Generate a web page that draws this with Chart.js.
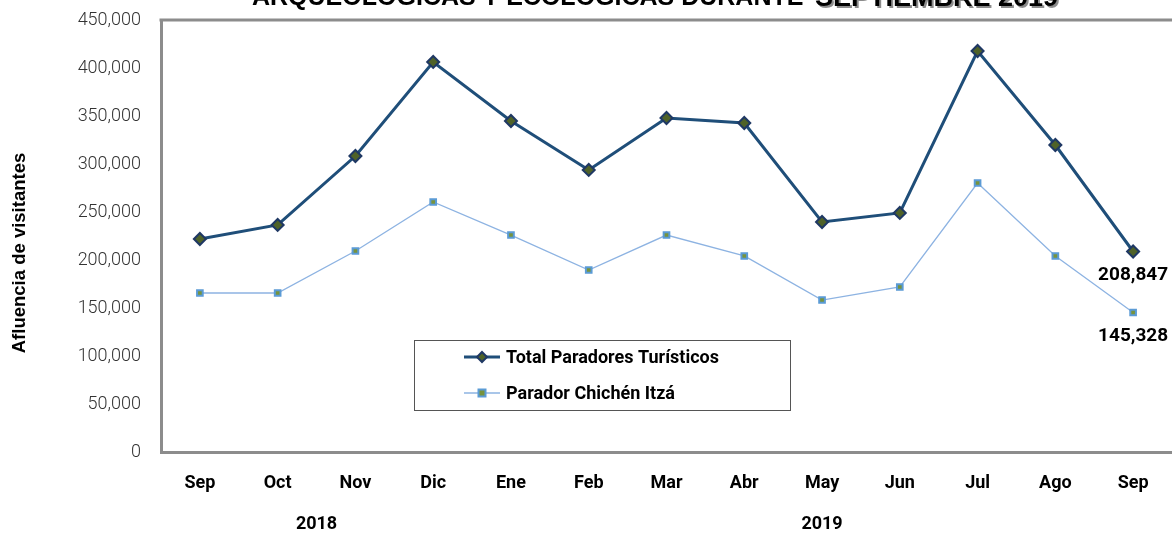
<!DOCTYPE html>
<html>
<head>
<meta charset="utf-8">
<script src="https://cdn.jsdelivr.net/npm/chart.js@4.4.0/dist/chart.umd.min.js"></script>
<style>
  html, body { margin: 0; padding: 0; background: #fff; overflow: hidden; }
  #wrap { width: 1180px; height: 534px; }
</style>
</head>
<body>
<div id="wrap"><canvas id="visitChart" width="1180" height="534"></canvas></div>
<script>
const months = ['Sep', 'Oct', 'Nov', 'Dic', 'Ene', 'Feb', 'Mar', 'Abr', 'May', 'Jun', 'Jul', 'Ago', 'Sep'];
const totalParadores = [221900, 236500, 308300, 406300, 344800, 293800, 347900, 342700, 239600, 249000, 417700, 319800, 208847];
const chichenItza = [165600, 165600, 209400, 260400, 226000, 189600, 226000, 204200, 158300, 171900, 280200, 204200, 145328];
const yTicks = [0, 50000, 100000, 150000, 200000, 250000, 300000, 350000, 400000, 450000];
const seriesNames = ['Total Paradores Turísticos', 'Parador Chichén Itzá'];
const years = ['2018', '2019'];
const yTitle = 'Afluencia de visitantes';
const titleParts = ['ARQUEOLÓGICAS Y ECOLÓGICAS DURANTE ', 'SEPTIEMBRE 2019'];

const fmt = v => v.toLocaleString('en-US');

const extrasPlugin = {
  id: 'extras',
  afterDraw(chart) {
    const ctx = chart.ctx;
    const area = chart.chartArea;
    const xs = chart.scales.x;
    ctx.save();

    // top border of plot area
    ctx.strokeStyle = '#8c8c8c';
    ctx.lineWidth = 3;
    ctx.beginPath();
    ctx.moveTo(area.left - 1.5, area.top);
    ctx.lineTo(area.right, area.top);
    ctx.stroke();

    // cut-off title
    ctx.fillStyle = '#000';
    ctx.textBaseline = 'alphabetic';
    ctx.textAlign = 'left';
    ctx.font = 'bold 25px "Liberation Sans", Arial, sans-serif';
    ctx.fillText(titleParts[0], 252, 5, 562);
    ctx.save();
    ctx.shadowColor = 'rgba(0,0,0,0.45)';
    ctx.shadowOffsetX = 2;
    ctx.shadowOffsetY = 2;
    ctx.font = 'bold 27px "Liberation Sans", Arial, sans-serif';
    ctx.fillText(titleParts[1], 815, 6, 295);
    ctx.restore();

    // y axis title (centred on the whole figure, like the original)
    ctx.save();
    ctx.translate(20, 253);
    ctx.rotate(-Math.PI / 2);
    ctx.font = 'bold 18.5px "Liberation Sans", Arial, sans-serif';
    ctx.textAlign = 'center';
    ctx.textBaseline = 'middle';
    ctx.fillText(yTitle, 0, 0);
    ctx.restore();

    // year labels
    ctx.font = 'bold 18px Roboto, sans-serif';
    ctx.textAlign = 'center';
    ctx.textBaseline = 'middle';
    const y2018 = (xs.getPixelForValue(1) + xs.getPixelForValue(2)) / 2;
    const y2019 = xs.getPixelForValue(8);
    ctx.fillText(years[0], y2018, 524);
    ctx.fillText(years[1], y2019, 524);

    // data labels on last points
    const last = months.length - 1;
    ctx.font = 'bold 19px Roboto, sans-serif';
    chart.data.datasets.forEach((ds, i) => {
      const pt = chart.getDatasetMeta(i).data[last];
      ctx.fillText(fmt(ds.data[last]), pt.x, pt.y + 24);
    });

    // legend box
    const lx = 414, ly = 340, lw = 376, lh = 70;
    ctx.fillStyle = '#fff';
    ctx.fillRect(lx, ly, lw, lh);
    ctx.strokeStyle = '#555';
    ctx.lineWidth = 1;
    ctx.strokeRect(lx + 0.5, ly + 0.5, lw, lh);
    chart.data.datasets.forEach((ds, i) => {
      const cy = ly + 17 + i * 36;
      ctx.strokeStyle = ds.borderColor;
      ctx.lineWidth = ds.borderWidth;
      ctx.beginPath();
      ctx.moveTo(464, cy);
      ctx.lineTo(500, cy);
      ctx.stroke();
      ctx.fillStyle = ds.pointBackgroundColor;
      ctx.strokeStyle = ds.pointBorderColor;
      ctx.lineWidth = ds.pointBorderWidth;
      ctx.beginPath();
      if (ds.pointStyle === 'rectRot') {
        const r = 5;
        ctx.moveTo(482, cy - r); ctx.lineTo(482 + r, cy); ctx.lineTo(482, cy + r); ctx.lineTo(482 - r, cy); ctx.closePath();
      } else {
        ctx.rect(478.5, cy - 3.5, 7, 7);
      }
      ctx.fill();
      ctx.stroke();
      ctx.fillStyle = '#000';
      ctx.font = 'bold 18px Roboto, sans-serif';
      ctx.textAlign = 'left';
      ctx.textBaseline = 'middle';
      ctx.fillText(seriesNames[i], 506, cy + 1);
    });

    ctx.restore();
  }
};

new Chart(document.getElementById('visitChart'), {
  type: 'line',
  data: {
    labels: months,
    datasets: [{
      label: seriesNames[0],
      data: totalParadores,
      borderColor: '#1f4e79',
      borderWidth: 3,
      pointStyle: 'rectRot',
      pointRadius: 6,
      pointBackgroundColor: '#4f6228',
      pointBorderColor: '#1f3864',
      pointBorderWidth: 2,
      tension: 0
    }, {
      label: seriesNames[1],
      data: chichenItza,
      borderColor: '#8db3e2',
      borderWidth: 1.3,
      pointStyle: 'rect',
      pointRadius: 4,
      pointBackgroundColor: '#77933c',
      pointBorderColor: '#5b9bd5',
      pointBorderWidth: 2,
      tension: 0
    }]
  },
  options: {
    responsive: false,
    animation: false,
    devicePixelRatio: 1,
    layout: { padding: { top: 20, right: 6, bottom: 0, left: 0 } },
    plugins: {
      legend: { display: false },
      tooltip: { enabled: false }
    },
    scales: {
      x: {
        offset: true,
        grid: { display: false, drawTicks: false },
        border: { display: true, color: '#8c8c8c', width: 3 },
        ticks: {
          color: '#000',
          padding: 21,
          maxRotation: 0,
          font: { family: 'Roboto, sans-serif', size: 18, weight: 'bold' }
        },
        afterFit(scale) {
          scale.height = 82;
          scale.paddingLeft = 0;
          scale.paddingRight = 0;
        }
      },
      y: {
        min: 0,
        max: 450000,
        afterBuildTicks(scale) { scale.ticks = yTicks.map(v => ({ value: v })); },
        grid: { display: false, drawTicks: false },
        border: { display: true, color: '#8c8c8c', width: 3 },
        ticks: {
          color: '#333',
          padding: 20,
          font: { family: 'Roboto, sans-serif', size: 18, weight: 300 },
          callback: v => fmt(v)
        },
        afterFit(scale) {
          scale.width = 161;
          scale.paddingTop = 0;
          scale.paddingBottom = 0;
        }
      }
    }
  },
  plugins: [extrasPlugin]
});
</script>
</body>
</html>
